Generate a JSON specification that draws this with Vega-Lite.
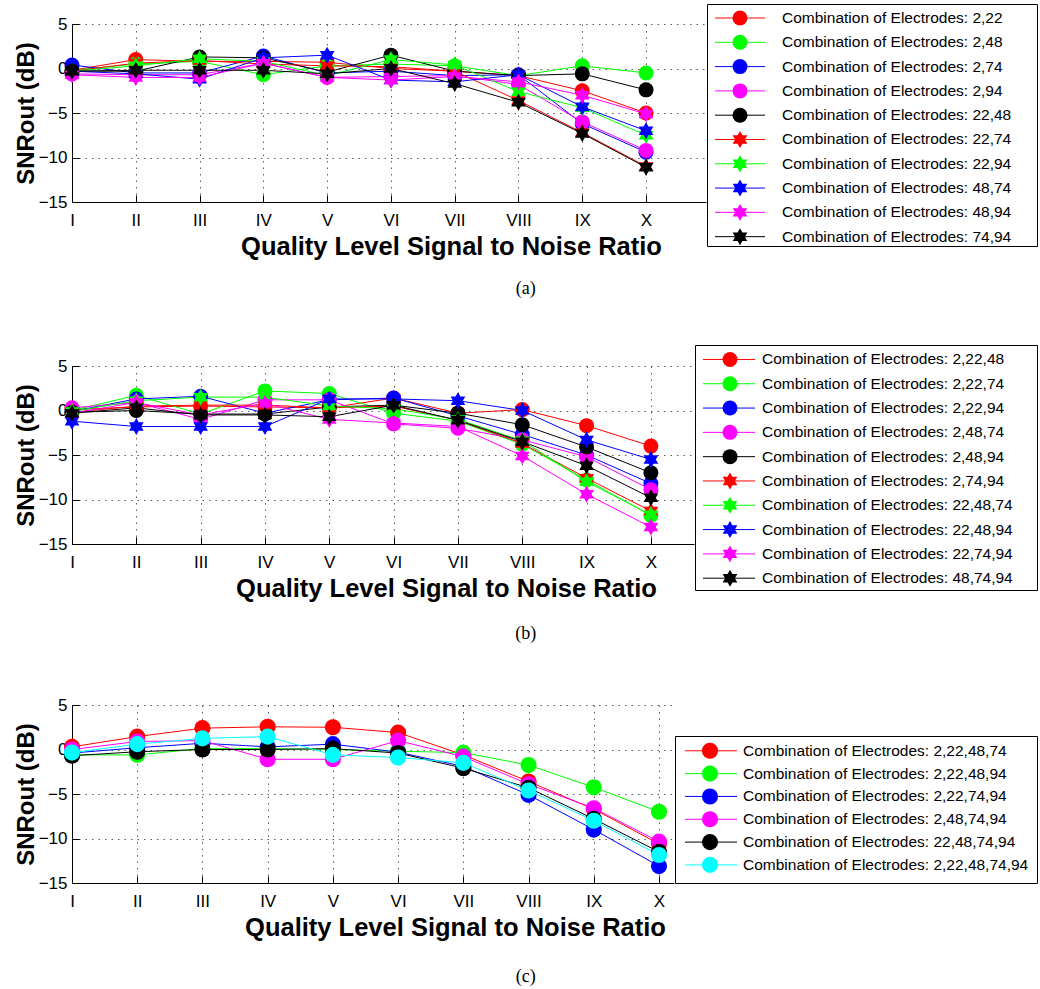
{
"$schema": "https://vega.github.io/schema/vega-lite/v6.json",
"background": "white",
"padding": {"left": 13, "top": 3, "right": 0, "bottom": 0},
"config": {
  "view": {"stroke": null},
  "axis": {"domainColor": "black", "domainWidth": 1, "tickColor": "black", "labelColor": "black", "titleColor": "black", "labelFont": "Liberation Sans", "titleFont": "Liberation Sans", "labelFontSize": 17, "titleFontSize": 24, "titleFontWeight": "bold", "grid": true, "gridColor": "#333333", "gridDash": [1.5, 5], "gridOpacity": 0.8, "tickSize": -7, "labelPadding": 12, "labelFlush": false},
  "axisX": {"labelPadding": 17, "titleFontSize": 25.5},
  "title": {"color": "black"}
},
"resolve": {"scale": {"color": "independent", "shape": "independent"}},
"datasets": {
  "legA": [
    {"series": "2,22", "label": "Combination of Electrodes: 2,22"},
    {"series": "2,48", "label": "Combination of Electrodes: 2,48"},
    {"series": "2,74", "label": "Combination of Electrodes: 2,74"},
    {"series": "2,94", "label": "Combination of Electrodes: 2,94"},
    {"series": "22,48", "label": "Combination of Electrodes: 22,48"},
    {"series": "22,74", "label": "Combination of Electrodes: 22,74"},
    {"series": "22,94", "label": "Combination of Electrodes: 22,94"},
    {"series": "48,74", "label": "Combination of Electrodes: 48,74"},
    {"series": "48,94", "label": "Combination of Electrodes: 48,94"},
    {"series": "74,94", "label": "Combination of Electrodes: 74,94"}
  ],
  "legB": [
    {"series": "2,22,48", "label": "Combination of Electrodes: 2,22,48"},
    {"series": "2,22,74", "label": "Combination of Electrodes: 2,22,74"},
    {"series": "2,22,94", "label": "Combination of Electrodes: 2,22,94"},
    {"series": "2,48,74", "label": "Combination of Electrodes: 2,48,74"},
    {"series": "2,48,94", "label": "Combination of Electrodes: 2,48,94"},
    {"series": "2,74,94", "label": "Combination of Electrodes: 2,74,94"},
    {"series": "22,48,74", "label": "Combination of Electrodes: 22,48,74"},
    {"series": "22,48,94", "label": "Combination of Electrodes: 22,48,94"},
    {"series": "22,74,94", "label": "Combination of Electrodes: 22,74,94"},
    {"series": "48,74,94", "label": "Combination of Electrodes: 48,74,94"}
  ],
  "legC": [
    {"series": "2,22,48,74", "label": "Combination of Electrodes: 2,22,48,74"},
    {"series": "2,22,48,94", "label": "Combination of Electrodes: 2,22,48,94"},
    {"series": "2,22,74,94", "label": "Combination of Electrodes: 2,22,74,94"},
    {"series": "2,48,74,94", "label": "Combination of Electrodes: 2,48,74,94"},
    {"series": "22,48,74,94", "label": "Combination of Electrodes: 22,48,74,94"},
    {"series": "2,22,48,74,94", "label": "Combination of Electrodes: 2,22,48,74,94"}
  ],
  "a": [
    {"series":"2,22","level":1,"snr":-0.2},{"series":"2,22","level":2,"snr":1.0},{"series":"2,22","level":3,"snr":0.8},{"series":"2,22","level":4,"snr":0.8},{"series":"2,22","level":5,"snr":0.7},{"series":"2,22","level":6,"snr":0.0},{"series":"2,22","level":7,"snr":-0.3},{"series":"2,22","level":8,"snr":-0.8},{"series":"2,22","level":9,"snr":-2.5},{"series":"2,22","level":10,"snr":-5.0},
    {"series":"2,48","level":1,"snr":-0.2},{"series":"2,48","level":2,"snr":0.5},{"series":"2,48","level":3,"snr":0.8},{"series":"2,48","level":4,"snr":-0.7},{"series":"2,48","level":5,"snr":0.3},{"series":"2,48","level":6,"snr":0.5},{"series":"2,48","level":7,"snr":0.3},{"series":"2,48","level":8,"snr":-0.8},{"series":"2,48","level":9,"snr":0.3},{"series":"2,48","level":10,"snr":-0.5},
    {"series":"2,74","level":1,"snr":0.4},{"series":"2,74","level":2,"snr":-0.5},{"series":"2,74","level":3,"snr":-0.5},{"series":"2,74","level":4,"snr":1.4},{"series":"2,74","level":5,"snr":-0.5},{"series":"2,74","level":6,"snr":-0.3},{"series":"2,74","level":7,"snr":-0.8},{"series":"2,74","level":8,"snr":-0.7},{"series":"2,74","level":9,"snr":-6.2},{"series":"2,74","level":10,"snr":-9.4},
    {"series":"2,94","level":1,"snr":-0.6},{"series":"2,94","level":2,"snr":-0.7},{"series":"2,94","level":3,"snr":-0.7},{"series":"2,94","level":4,"snr":0.6},{"series":"2,94","level":5,"snr":-1.0},{"series":"2,94","level":6,"snr":-0.9},{"series":"2,94","level":7,"snr":-0.8},{"series":"2,94","level":8,"snr":-1.8},{"series":"2,94","level":9,"snr":-6.0},{"series":"2,94","level":10,"snr":-9.2},
    {"series":"22,48","level":1,"snr":-0.3},{"series":"22,48","level":2,"snr":-0.3},{"series":"22,48","level":3,"snr":1.3},{"series":"22,48","level":4,"snr":1.2},{"series":"22,48","level":5,"snr":-0.4},{"series":"22,48","level":6,"snr":1.5},{"series":"22,48","level":7,"snr":-0.3},{"series":"22,48","level":8,"snr":-0.8},{"series":"22,48","level":9,"snr":-0.6},{"series":"22,48","level":10,"snr":-2.4},
    {"series":"22,74","level":1,"snr":-0.3},{"series":"22,74","level":2,"snr":0.6},{"series":"22,74","level":3,"snr":0.9},{"series":"22,74","level":4,"snr":0.5},{"series":"22,74","level":5,"snr":0.3},{"series":"22,74","level":6,"snr":0.2},{"series":"22,74","level":7,"snr":-0.3},{"series":"22,74","level":8,"snr":-3.6},{"series":"22,74","level":9,"snr":-7.2},{"series":"22,74","level":10,"snr":-11.0},
    {"series":"22,94","level":1,"snr":-0.3},{"series":"22,94","level":2,"snr":0.3},{"series":"22,94","level":3,"snr":1.1},{"series":"22,94","level":4,"snr":0.8},{"series":"22,94","level":5,"snr":-0.8},{"series":"22,94","level":6,"snr":1.0},{"series":"22,94","level":7,"snr":0.4},{"series":"22,94","level":8,"snr":-2.6},{"series":"22,94","level":9,"snr":-4.4},{"series":"22,94","level":10,"snr":-7.5},
    {"series":"48,74","level":1,"snr":-0.3},{"series":"48,74","level":2,"snr":-0.6},{"series":"48,74","level":3,"snr":-1.2},{"series":"48,74","level":4,"snr":1.2},{"series":"48,74","level":5,"snr":1.5},{"series":"48,74","level":6,"snr":-1.3},{"series":"48,74","level":7,"snr":-1.5},{"series":"48,74","level":8,"snr":-0.7},{"series":"48,74","level":9,"snr":-4.3},{"series":"48,74","level":10,"snr":-7.0},
    {"series":"48,94","level":1,"snr":-0.7},{"series":"48,94","level":2,"snr":-1.0},{"series":"48,94","level":3,"snr":-1.0},{"series":"48,94","level":4,"snr":0.6},{"series":"48,94","level":5,"snr":-1.0},{"series":"48,94","level":6,"snr":-1.3},{"series":"48,94","level":7,"snr":-0.9},{"series":"48,94","level":8,"snr":-1.5},{"series":"48,94","level":9,"snr":-3.0},{"series":"48,94","level":10,"snr":-5.1},
    {"series":"74,94","level":1,"snr":-0.3},{"series":"74,94","level":2,"snr":-0.2},{"series":"74,94","level":3,"snr":-0.2},{"series":"74,94","level":4,"snr":-0.2},{"series":"74,94","level":5,"snr":-0.6},{"series":"74,94","level":6,"snr":0.0},{"series":"74,94","level":7,"snr":-1.7},{"series":"74,94","level":8,"snr":-3.8},{"series":"74,94","level":9,"snr":-7.3},{"series":"74,94","level":10,"snr":-11.1}
  ],
  "b": [
    {"series":"2,22,48","level":1,"snr":0.1},{"series":"2,22,48","level":2,"snr":0.4},{"series":"2,22,48","level":3,"snr":0.5},{"series":"2,22,48","level":4,"snr":0.4},{"series":"2,22,48","level":5,"snr":0.3},{"series":"2,22,48","level":6,"snr":1.4},{"series":"2,22,48","level":7,"snr":-0.3},{"series":"2,22,48","level":8,"snr":0.1},{"series":"2,22,48","level":9,"snr":-1.7},{"series":"2,22,48","level":10,"snr":-4.0},
    {"series":"2,22,74","level":1,"snr":0.0},{"series":"2,22,74","level":2,"snr":1.7},{"series":"2,22,74","level":3,"snr":-0.4},{"series":"2,22,74","level":4,"snr":2.2},{"series":"2,22,74","level":5,"snr":1.9},{"series":"2,22,74","level":6,"snr":-0.3},{"series":"2,22,74","level":7,"snr":-1.2},{"series":"2,22,74","level":8,"snr":-3.8},{"series":"2,22,74","level":9,"snr":-7.8},{"series":"2,22,74","level":10,"snr":-11.8},
    {"series":"2,22,94","level":1,"snr":-0.1},{"series":"2,22,94","level":2,"snr":1.3},{"series":"2,22,94","level":3,"snr":1.6},{"series":"2,22,94","level":4,"snr":-0.3},{"series":"2,22,94","level":5,"snr":1.2},{"series":"2,22,94","level":6,"snr":1.4},{"series":"2,22,94","level":7,"snr":-0.6},{"series":"2,22,94","level":8,"snr":-2.7},{"series":"2,22,94","level":9,"snr":-5.0},{"series":"2,22,94","level":10,"snr":-8.2},
    {"series":"2,48,74","level":1,"snr":0.3},{"series":"2,48,74","level":2,"snr":0.9},{"series":"2,48,74","level":3,"snr":-1.0},{"series":"2,48,74","level":4,"snr":1.2},{"series":"2,48,74","level":5,"snr":1.2},{"series":"2,48,74","level":6,"snr":-1.5},{"series":"2,48,74","level":7,"snr":-2.0},{"series":"2,48,74","level":8,"snr":-3.3},{"series":"2,48,74","level":9,"snr":-5.2},{"series":"2,48,74","level":10,"snr":-8.9},
    {"series":"2,48,94","level":1,"snr":-0.2},{"series":"2,48,94","level":2,"snr":0.0},{"series":"2,48,94","level":3,"snr":-0.4},{"series":"2,48,94","level":4,"snr":-0.4},{"series":"2,48,94","level":5,"snr":0.4},{"series":"2,48,94","level":6,"snr":0.6},{"series":"2,48,94","level":7,"snr":-0.3},{"series":"2,48,94","level":8,"snr":-1.6},{"series":"2,48,94","level":9,"snr":-4.1},{"series":"2,48,94","level":10,"snr":-7.0},
    {"series":"2,74,94","level":1,"snr":-0.2},{"series":"2,74,94","level":2,"snr":0.5},{"series":"2,74,94","level":3,"snr":0.6},{"series":"2,74,94","level":4,"snr":0.6},{"series":"2,74,94","level":5,"snr":0.3},{"series":"2,74,94","level":6,"snr":0.5},{"series":"2,74,94","level":7,"snr":-1.1},{"series":"2,74,94","level":8,"snr":-3.7},{"series":"2,74,94","level":9,"snr":-7.6},{"series":"2,74,94","level":10,"snr":-11.3},
    {"series":"22,48,74","level":1,"snr":-0.1},{"series":"22,48,74","level":2,"snr":1.1},{"series":"22,48,74","level":3,"snr":1.5},{"series":"22,48,74","level":4,"snr":1.5},{"series":"22,48,74","level":5,"snr":0.5},{"series":"22,48,74","level":6,"snr":0.2},{"series":"22,48,74","level":7,"snr":-1.0},{"series":"22,48,74","level":8,"snr":-3.4},{"series":"22,48,74","level":9,"snr":-8.0},{"series":"22,48,74","level":10,"snr":-11.7},
    {"series":"22,48,94","level":1,"snr":-1.2},{"series":"22,48,94","level":2,"snr":-1.8},{"series":"22,48,94","level":3,"snr":-1.8},{"series":"22,48,94","level":4,"snr":-1.8},{"series":"22,48,94","level":5,"snr":1.3},{"series":"22,48,94","level":6,"snr":1.3},{"series":"22,48,94","level":7,"snr":1.1},{"series":"22,48,94","level":8,"snr":0.0},{"series":"22,48,94","level":9,"snr":-3.3},{"series":"22,48,94","level":10,"snr":-5.5},
    {"series":"22,74,94","level":1,"snr":-0.3},{"series":"22,74,94","level":2,"snr":0.9},{"series":"22,74,94","level":3,"snr":-0.5},{"series":"22,74,94","level":4,"snr":0.8},{"series":"22,74,94","level":5,"snr":-1.0},{"series":"22,74,94","level":6,"snr":-1.4},{"series":"22,74,94","level":7,"snr":-1.8},{"series":"22,74,94","level":8,"snr":-5.1},{"series":"22,74,94","level":9,"snr":-9.4},{"series":"22,74,94","level":10,"snr":-13.1},
    {"series":"48,74,94","level":1,"snr":-0.3},{"series":"48,74,94","level":2,"snr":0.3},{"series":"48,74,94","level":3,"snr":-0.5},{"series":"48,74,94","level":4,"snr":-0.5},{"series":"48,74,94","level":5,"snr":-0.7},{"series":"48,74,94","level":6,"snr":0.6},{"series":"48,74,94","level":7,"snr":-1.1},{"series":"48,74,94","level":8,"snr":-3.5},{"series":"48,74,94","level":9,"snr":-6.2},{"series":"48,74,94","level":10,"snr":-9.8}
  ],
  "c": [
    {"series":"2,22,48,74","level":1,"snr":0.3},{"series":"2,22,48,74","level":2,"snr":1.45},{"series":"2,22,48,74","level":3,"snr":2.4},{"series":"2,22,48,74","level":4,"snr":2.55},{"series":"2,22,48,74","level":5,"snr":2.5},{"series":"2,22,48,74","level":6,"snr":1.9},{"series":"2,22,48,74","level":7,"snr":-0.6},{"series":"2,22,48,74","level":8,"snr":-3.6},{"series":"2,22,48,74","level":9,"snr":-6.7},{"series":"2,22,48,74","level":10,"snr":-10.6},
    {"series":"2,22,48,94","level":1,"snr":-0.6},{"series":"2,22,48,94","level":2,"snr":-0.6},{"series":"2,22,48,94","level":3,"snr":0.1},{"series":"2,22,48,94","level":4,"snr":0.1},{"series":"2,22,48,94","level":5,"snr":0.0},{"series":"2,22,48,94","level":6,"snr":-0.2},{"series":"2,22,48,94","level":7,"snr":-0.35},{"series":"2,22,48,94","level":8,"snr":-1.75},{"series":"2,22,48,94","level":9,"snr":-4.25},{"series":"2,22,48,94","level":10,"snr":-7.0},
    {"series":"2,22,74,94","level":1,"snr":-0.4},{"series":"2,22,74,94","level":2,"snr":0.2},{"series":"2,22,74,94","level":3,"snr":0.7},{"series":"2,22,74,94","level":4,"snr":0.3},{"series":"2,22,74,94","level":5,"snr":0.6},{"series":"2,22,74,94","level":6,"snr":-0.3},{"series":"2,22,74,94","level":7,"snr":-1.9},{"series":"2,22,74,94","level":8,"snr":-5.1},{"series":"2,22,74,94","level":9,"snr":-9.0},{"series":"2,22,74,94","level":10,"snr":-13.1},
    {"series":"2,48,74,94","level":1,"snr":0.0},{"series":"2,48,74,94","level":2,"snr":0.9},{"series":"2,48,74,94","level":3,"snr":1.0},{"series":"2,48,74,94","level":4,"snr":-1.1},{"series":"2,48,74,94","level":5,"snr":-1.1},{"series":"2,48,74,94","level":6,"snr":1.0},{"series":"2,48,74,94","level":7,"snr":-0.8},{"series":"2,48,74,94","level":8,"snr":-3.9},{"series":"2,48,74,94","level":9,"snr":-6.6},{"series":"2,48,74,94","level":10,"snr":-10.35},
    {"series":"22,48,74,94","level":1,"snr":-0.7},{"series":"22,48,74,94","level":2,"snr":-0.25},{"series":"22,48,74,94","level":3,"snr":0.0},{"series":"22,48,74,94","level":4,"snr":0.0},{"series":"22,48,74,94","level":5,"snr":0.1},{"series":"22,48,74,94","level":6,"snr":-0.4},{"series":"22,48,74,94","level":7,"snr":-2.1},{"series":"22,48,74,94","level":8,"snr":-4.3},{"series":"22,48,74,94","level":9,"snr":-7.8},{"series":"22,48,74,94","level":10,"snr":-11.5},
    {"series":"2,22,48,74,94","level":1,"snr":-0.35},{"series":"2,22,48,74,94","level":2,"snr":0.6},{"series":"2,22,48,74,94","level":3,"snr":1.25},{"series":"2,22,48,74,94","level":4,"snr":1.45},{"series":"2,22,48,74,94","level":5,"snr":-0.6},{"series":"2,22,48,74,94","level":6,"snr":-0.9},{"series":"2,22,48,74,94","level":7,"snr":-1.5},{"series":"2,22,48,74,94","level":8,"snr":-4.6},{"series":"2,22,48,74,94","level":9,"snr":-8.0},{"series":"2,22,48,74,94","level":10,"snr":-11.85}
  ]
},
"spacing": 46,
"vconcat": [
  {
    "spacing": 0,
    "title": {"text": "(a)", "orient": "bottom", "font": "Liberation Serif", "fontSize": 18, "fontWeight": "normal", "offset": 20, "anchor": "middle", "color": "black"},
    "hconcat": [
      {
        "spacing": 0,
        "vconcat": [
          {"width": 1, "height": 11, "data": {"values": []}, "mark": "point"},
          {
            "width": 634, "height": 178,
            "data": {"name": "a"},
            "encoding": {
              "x": {"field": "level", "type": "quantitative", "scale": {"domain": [1, 10.94], "nice": false, "zero": false}, "axis": {"title": "Quality Level Signal to Noise Ratio", "values": [1,2,3,4,5,6,7,8,9,10], "labelExpr": "['I','II','III','IV','V','VI','VII','VIII','IX','X'][datum.value-1]", "titleX": 379, "titleY": 44, "titleBaseline": "middle"}},
              "y": {"field": "snr", "type": "quantitative", "scale": {"domain": [-15, 5], "nice": false, "zero": false}, "axis": {"title": "SNRout (dB)", "values": [-15,-10,-5,0,5], "titleX": -46, "titleBaseline": "middle"}},
              "color": {"field": "series", "type": "nominal", "scale": {"domain": ["2,22","2,48","2,74","2,94","22,48","22,74","22,94","48,74","48,94","74,94"], "range": ["#ff0000","#00ff00","#0000ff","#ff00ff","#000000","#ff0000","#00ff00","#0000ff","#ff00ff","#000000"]}, "legend": null}
            },
            "layer": [
              {"mark": {"type": "line", "strokeWidth": 1}, "encoding": {}},
              {"mark": {"type": "point", "filled": true, "opacity": 1, "size": 225}, "encoding": {"shape": {"field": "series", "type": "nominal", "scale": {"domain": ["2,22","2,48","2,74","2,94","22,48","22,74","22,94","48,74","48,94","74,94"], "range": ["circle","circle","circle","circle","circle","M0,-1.13L0.326,-0.565L0.979,-0.565L0.652,0L0.979,0.565L0.326,0.565L0,1.13L-0.326,0.565L-0.979,0.565L-0.652,0L-0.979,-0.565L-0.326,-0.565Z","M0,-1.13L0.326,-0.565L0.979,-0.565L0.652,0L0.979,0.565L0.326,0.565L0,1.13L-0.326,0.565L-0.979,0.565L-0.652,0L-0.979,-0.565L-0.326,-0.565Z","M0,-1.13L0.326,-0.565L0.979,-0.565L0.652,0L0.979,0.565L0.326,0.565L0,1.13L-0.326,0.565L-0.979,0.565L-0.652,0L-0.979,-0.565L-0.326,-0.565Z","M0,-1.13L0.326,-0.565L0.979,-0.565L0.652,0L0.979,0.565L0.326,0.565L0,1.13L-0.326,0.565L-0.979,0.565L-0.652,0L-0.979,-0.565L-0.326,-0.565Z","M0,-1.13L0.326,-0.565L0.979,-0.565L0.652,0L0.979,0.565L0.326,0.565L0,1.13L-0.326,0.565L-0.979,0.565L-0.652,0L-0.979,-0.565L-0.326,-0.565Z"]}, "legend": null}}}
            ]
          }
        ]
      },
      {
        "width": 330, "height": 242,
        "view": {"stroke": "black", "strokeWidth": 1, "fill": "white"},
        "data": {"name": "legA"},
        "encoding": {
          "y": {"field": "series", "type": "nominal", "sort": ["2,22","2,48","2,74","2,94","22,48","22,74","22,94","48,74","48,94","74,94"], "scale": {"type": "point", "padding": 0.48, "align": 0.6}, "axis": null},
          "color": {"field": "series", "type": "nominal", "scale": {"domain": ["2,22","2,48","2,74","2,94","22,48","22,74","22,94","48,74","48,94","74,94"], "range": ["#ff0000","#00ff00","#0000ff","#ff00ff","#000000","#ff0000","#00ff00","#0000ff","#ff00ff","#000000"]}, "legend": null}
        },
        "layer": [
          {"mark": {"type": "rule", "strokeWidth": 1}, "encoding": {"x": {"datum": 0.8, "type": "quantitative", "scale": {"domain": [0, 33], "nice": false, "zero": false}, "axis": null}, "x2": {"datum": 5.8}}},
          {"mark": {"type": "point", "filled": true, "opacity": 1, "size": 225}, "encoding": {"x": {"datum": 3.3, "type": "quantitative"}, "shape": {"field": "series", "type": "nominal", "scale": {"domain": ["2,22","2,48","2,74","2,94","22,48","22,74","22,94","48,74","48,94","74,94"], "range": ["circle","circle","circle","circle","circle","M0,-1.13L0.326,-0.565L0.979,-0.565L0.652,0L0.979,0.565L0.326,0.565L0,1.13L-0.326,0.565L-0.979,0.565L-0.652,0L-0.979,-0.565L-0.326,-0.565Z","M0,-1.13L0.326,-0.565L0.979,-0.565L0.652,0L0.979,0.565L0.326,0.565L0,1.13L-0.326,0.565L-0.979,0.565L-0.652,0L-0.979,-0.565L-0.326,-0.565Z","M0,-1.13L0.326,-0.565L0.979,-0.565L0.652,0L0.979,0.565L0.326,0.565L0,1.13L-0.326,0.565L-0.979,0.565L-0.652,0L-0.979,-0.565L-0.326,-0.565Z","M0,-1.13L0.326,-0.565L0.979,-0.565L0.652,0L0.979,0.565L0.326,0.565L0,1.13L-0.326,0.565L-0.979,0.565L-0.652,0L-0.979,-0.565L-0.326,-0.565Z","M0,-1.13L0.326,-0.565L0.979,-0.565L0.652,0L0.979,0.565L0.326,0.565L0,1.13L-0.326,0.565L-0.979,0.565L-0.652,0L-0.979,-0.565L-0.326,-0.565Z"]}, "legend": null}}},
          {"mark": {"type": "text", "align": "left", "baseline": "middle", "font": "Liberation Sans", "fontSize": 15.5}, "encoding": {"x": {"datum": 7.5, "type": "quantitative"}, "text": {"field": "label"}, "color": {"value": "black"}}}
        ]
      }
    ]
  },
  {
    "spacing": 0,
    "title": {"text": "(b)", "orient": "bottom", "font": "Liberation Serif", "fontSize": 18, "fontWeight": "normal", "offset": 23, "anchor": "middle", "color": "black"},
    "hconcat": [
      {
        "spacing": 0,
        "vconcat": [
          {"width": 1, "height": 12, "data": {"values": []}, "mark": "point"},
          {
            "width": 622, "height": 178,
            "data": {"name": "b"},
            "encoding": {
              "x": {"field": "level", "type": "quantitative", "scale": {"domain": [1, 10.67], "nice": false, "zero": false}, "axis": {"title": "Quality Level Signal to Noise Ratio", "values": [1,2,3,4,5,6,7,8,9,10], "labelExpr": "['I','II','III','IV','V','VI','VII','VIII','IX','X'][datum.value-1]", "titleX": 374, "titleY": 44, "titleBaseline": "middle"}},
              "y": {"field": "snr", "type": "quantitative", "scale": {"domain": [-15, 5], "nice": false, "zero": false}, "axis": {"title": "SNRout (dB)", "values": [-15,-10,-5,0,5], "titleX": -46, "titleBaseline": "middle"}},
              "color": {"field": "series", "type": "nominal", "scale": {"domain": ["2,22,48","2,22,74","2,22,94","2,48,74","2,48,94","2,74,94","22,48,74","22,48,94","22,74,94","48,74,94"], "range": ["#ff0000","#00ff00","#0000ff","#ff00ff","#000000","#ff0000","#00ff00","#0000ff","#ff00ff","#000000"]}, "legend": null}
            },
            "layer": [
              {"mark": {"type": "line", "strokeWidth": 1}, "encoding": {}},
              {"mark": {"type": "point", "filled": true, "opacity": 1, "size": 225}, "encoding": {"shape": {"field": "series", "type": "nominal", "scale": {"domain": ["2,22,48","2,22,74","2,22,94","2,48,74","2,48,94","2,74,94","22,48,74","22,48,94","22,74,94","48,74,94"], "range": ["circle","circle","circle","circle","circle","M0,-1.13L0.326,-0.565L0.979,-0.565L0.652,0L0.979,0.565L0.326,0.565L0,1.13L-0.326,0.565L-0.979,0.565L-0.652,0L-0.979,-0.565L-0.326,-0.565Z","M0,-1.13L0.326,-0.565L0.979,-0.565L0.652,0L0.979,0.565L0.326,0.565L0,1.13L-0.326,0.565L-0.979,0.565L-0.652,0L-0.979,-0.565L-0.326,-0.565Z","M0,-1.13L0.326,-0.565L0.979,-0.565L0.652,0L0.979,0.565L0.326,0.565L0,1.13L-0.326,0.565L-0.979,0.565L-0.652,0L-0.979,-0.565L-0.326,-0.565Z","M0,-1.13L0.326,-0.565L0.979,-0.565L0.652,0L0.979,0.565L0.326,0.565L0,1.13L-0.326,0.565L-0.979,0.565L-0.652,0L-0.979,-0.565L-0.326,-0.565Z","M0,-1.13L0.326,-0.565L0.979,-0.565L0.652,0L0.979,0.565L0.326,0.565L0,1.13L-0.326,0.565L-0.979,0.565L-0.652,0L-0.979,-0.565L-0.326,-0.565Z"]}, "legend": null}}}
            ]
          }
        ]
      },
      {
        "width": 342, "height": 245,
        "view": {"stroke": "black", "strokeWidth": 1, "fill": "white"},
        "data": {"name": "legB"},
        "encoding": {
          "y": {"field": "series", "type": "nominal", "sort": ["2,22,48","2,22,74","2,22,94","2,48,74","2,48,94","2,74,94","22,48,74","22,48,94","22,74,94","48,74,94"], "scale": {"type": "point", "padding": 0.54, "align": 0.55}, "axis": null},
          "color": {"field": "series", "type": "nominal", "scale": {"domain": ["2,22,48","2,22,74","2,22,94","2,48,74","2,48,94","2,74,94","22,48,74","22,48,94","22,74,94","48,74,94"], "range": ["#ff0000","#00ff00","#0000ff","#ff00ff","#000000","#ff0000","#00ff00","#0000ff","#ff00ff","#000000"]}, "legend": null}
        },
        "layer": [
          {"mark": {"type": "rule", "strokeWidth": 1}, "encoding": {"x": {"datum": 0.8, "type": "quantitative", "scale": {"domain": [0, 34.2], "nice": false, "zero": false}, "axis": null}, "x2": {"datum": 6.0}}},
          {"mark": {"type": "point", "filled": true, "opacity": 1, "size": 225}, "encoding": {"x": {"datum": 3.5, "type": "quantitative"}, "shape": {"field": "series", "type": "nominal", "scale": {"domain": ["2,22,48","2,22,74","2,22,94","2,48,74","2,48,94","2,74,94","22,48,74","22,48,94","22,74,94","48,74,94"], "range": ["circle","circle","circle","circle","circle","M0,-1.13L0.326,-0.565L0.979,-0.565L0.652,0L0.979,0.565L0.326,0.565L0,1.13L-0.326,0.565L-0.979,0.565L-0.652,0L-0.979,-0.565L-0.326,-0.565Z","M0,-1.13L0.326,-0.565L0.979,-0.565L0.652,0L0.979,0.565L0.326,0.565L0,1.13L-0.326,0.565L-0.979,0.565L-0.652,0L-0.979,-0.565L-0.326,-0.565Z","M0,-1.13L0.326,-0.565L0.979,-0.565L0.652,0L0.979,0.565L0.326,0.565L0,1.13L-0.326,0.565L-0.979,0.565L-0.652,0L-0.979,-0.565L-0.326,-0.565Z","M0,-1.13L0.326,-0.565L0.979,-0.565L0.652,0L0.979,0.565L0.326,0.565L0,1.13L-0.326,0.565L-0.979,0.565L-0.652,0L-0.979,-0.565L-0.326,-0.565Z","M0,-1.13L0.326,-0.565L0.979,-0.565L0.652,0L0.979,0.565L0.326,0.565L0,1.13L-0.326,0.565L-0.979,0.565L-0.652,0L-0.979,-0.565L-0.326,-0.565Z"]}, "legend": null}}},
          {"mark": {"type": "text", "align": "left", "baseline": "middle", "font": "Liberation Sans", "fontSize": 15.5}, "encoding": {"x": {"datum": 6.7, "type": "quantitative"}, "text": {"field": "label"}, "color": {"value": "black"}}}
        ]
      }
    ]
  },
  {
    "spacing": 0,
    "title": {"text": "(c)", "orient": "bottom", "font": "Liberation Serif", "fontSize": 18, "fontWeight": "normal", "offset": 27, "anchor": "middle", "color": "black"},
    "hconcat": [
      {
        "spacing": 0,
        "vconcat": [
          {"width": 1, "height": 7, "data": {"values": []}, "mark": "point"},
          {
            "width": 602, "height": 178,
            "data": {"name": "c"},
            "encoding": {
              "x": {"field": "level", "type": "quantitative", "scale": {"domain": [1, 10.23], "nice": false, "zero": false}, "axis": {"title": "Quality Level Signal to Noise Ratio", "values": [1,2,3,4,5,6,7,8,9,10], "labelExpr": "['I','II','III','IV','V','VI','VII','VIII','IX','X'][datum.value-1]", "titleX": 383, "titleY": 44, "titleBaseline": "middle"}},
              "y": {"field": "snr", "type": "quantitative", "scale": {"domain": [-15, 5], "nice": false, "zero": false}, "axis": {"title": "SNRout (dB)", "values": [-15,-10,-5,0,5], "titleX": -46, "titleBaseline": "middle"}},
              "color": {"field": "series", "type": "nominal", "scale": {"domain": ["2,22,48,74","2,22,48,94","2,22,74,94","2,48,74,94","22,48,74,94","2,22,48,74,94"], "range": ["#ff0000","#00ff00","#0000ff","#ff00ff","#000000","#00ffff"]}, "legend": null}
            },
            "layer": [
              {"mark": {"type": "line", "strokeWidth": 1}, "encoding": {}},
              {"mark": {"type": "point", "filled": true, "opacity": 1, "size": 260, "shape": "circle"}, "encoding": {}}
            ]
          }
        ]
      },
      {
        "spacing": 0,
        "vconcat": [
          {"width": 1, "height": 46, "data": {"values": []}, "mark": "point"},
          {
            "width": 362, "height": 147,
            "view": {"stroke": "black", "strokeWidth": 1, "fill": "white"},
            "data": {"name": "legC"},
            "encoding": {
              "y": {"field": "series", "type": "nominal", "sort": ["2,22,48,74","2,22,48,94","2,22,74,94","2,48,74,94","22,48,74,94","2,22,48,74,94"], "scale": {"type": "point", "padding": 0.72, "align": 0.45}, "axis": null},
              "color": {"field": "series", "type": "nominal", "scale": {"domain": ["2,22,48,74","2,22,48,94","2,22,74,94","2,48,74,94","22,48,74,94","2,22,48,74,94"], "range": ["#ff0000","#00ff00","#0000ff","#ff00ff","#000000","#00ffff"]}, "legend": null}
            },
            "layer": [
              {"mark": {"type": "rule", "strokeWidth": 1}, "encoding": {"x": {"datum": 1.0, "type": "quantitative", "scale": {"domain": [0, 36.2], "nice": false, "zero": false}, "axis": null}, "x2": {"datum": 6.2}}},
              {"mark": {"type": "point", "filled": true, "opacity": 1, "size": 260, "shape": "circle"}, "encoding": {"x": {"datum": 3.5, "type": "quantitative"}}},
              {"mark": {"type": "text", "align": "left", "baseline": "middle", "font": "Liberation Sans", "fontSize": 15.5}, "encoding": {"x": {"datum": 6.8, "type": "quantitative"}, "text": {"field": "label"}, "color": {"value": "black"}}}
            ]
          }
        ]
      }
    ]
  }
]
}
